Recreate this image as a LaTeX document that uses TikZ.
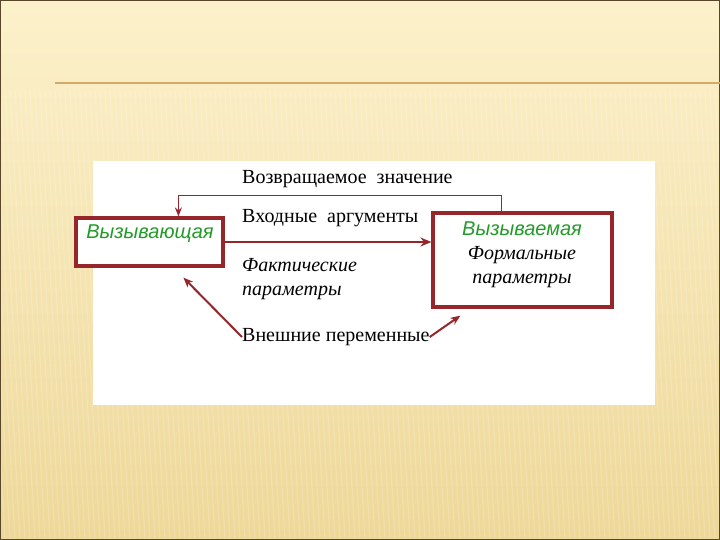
\documentclass[tikz,border=0pt]{standalone}
\usepackage{fontspec}
\setmainfont{Liberation Serif}
\newfontfamily\arialf{Liberation Sans}
\usetikzlibrary{arrows.meta,calc}
\definecolor{boxred}{RGB}{150,38,42}
\definecolor{callgreen}{RGB}{35,155,40}
\definecolor{bgtop}{RGB}{252,241,203}
\definecolor{bgbot}{RGB}{238,216,152}
\definecolor{rulegold}{RGB}{212,170,105}
\definecolor{framebrown}{RGB}{90,70,40}
\tikzset{
  procbox/.style={draw=boxred, line width=3.2pt, fill=white, inner sep=0pt},
  serifl/.style={font=\fontsize{20}{24}\selectfont, text=black, inner sep=0pt, anchor=west},
  itall/.style={font=\fontsize{20}{24}\selectfont\itshape, text=black, inner sep=0pt, align=left, anchor=west},
  greenl/.style={font=\arialf\fontsize{20}{24}\selectfont\itshape, text=callgreen, inner sep=0pt},
  retline/.style={draw=boxred, line width=1.3pt, -{Stealth[length=9pt,width=7pt]}},
  mainarrow/.style={draw=boxred, line width=2.4pt, -{Stealth[length=11pt,width=9pt]}},
  extarrow/.style={draw=boxred, line width=2pt, -{Stealth[length=10pt,width=8pt]}},
}
\begin{document}
\begin{tikzpicture}[x=1pt,y=-1pt]
\useasboundingbox (0,0) rectangle (720,540);
% background
\shade[top color=bgtop, bottom color=bgbot] (0,0) rectangle (720,540);
\foreach \i in {-40,-35,...,760} {
  \draw[white, opacity=0.18, line width=1.2pt] (\i,90) -- (\i+25,540);
}
\draw[framebrown, line width=1.4pt] (0.7,0.7) rectangle (719.3,539.3);
\draw[rulegold, line width=1.6pt] (55,83) -- (720,83);
% white panel
\fill[white] (93,161) rectangle (655,405);
% boxes
\node[procbox, minimum width=147pt, minimum height=48pt] (caller) at (149.5,242) {};
\node[greenl] (callerlbl) at (150,234) {Вызывающая};
\node[procbox, minimum width=179pt, minimum height=94pt] (callee) at (522.5,260) {};
\node[greenl] (calleelbl) at (522,229) {Вызываемая};
\node[itall, anchor=center, align=center] (formal) at (522,267) {Формальные\\параметры};
% labels
\node[serifl] (ret) at (242,179) {Возвращаемое\ \ значение};
\node[serifl] (inp) at (242,218) {Входные\ \ аргументы};
\node[itall] (fact) at (242,279) {Фактические\\параметры};
\node[serifl] (ext) at (242,337) {Внешние переменные};
% connectors
\draw[retline] ([xshift=70pt]callee.north west) |- ([xshift=104pt,yshift=21pt]caller.north west) -- ([xshift=104pt]caller.north west);
\draw[mainarrow] (caller.east) -- (caller.east -| callee.west);
\draw[extarrow] (ext.west) -- ([xshift=109pt,yshift=-10pt]caller.south west);
\draw[extarrow] (ext.east) -- ([xshift=29pt,yshift=-7pt]callee.south west);
\end{tikzpicture}
\end{document}
